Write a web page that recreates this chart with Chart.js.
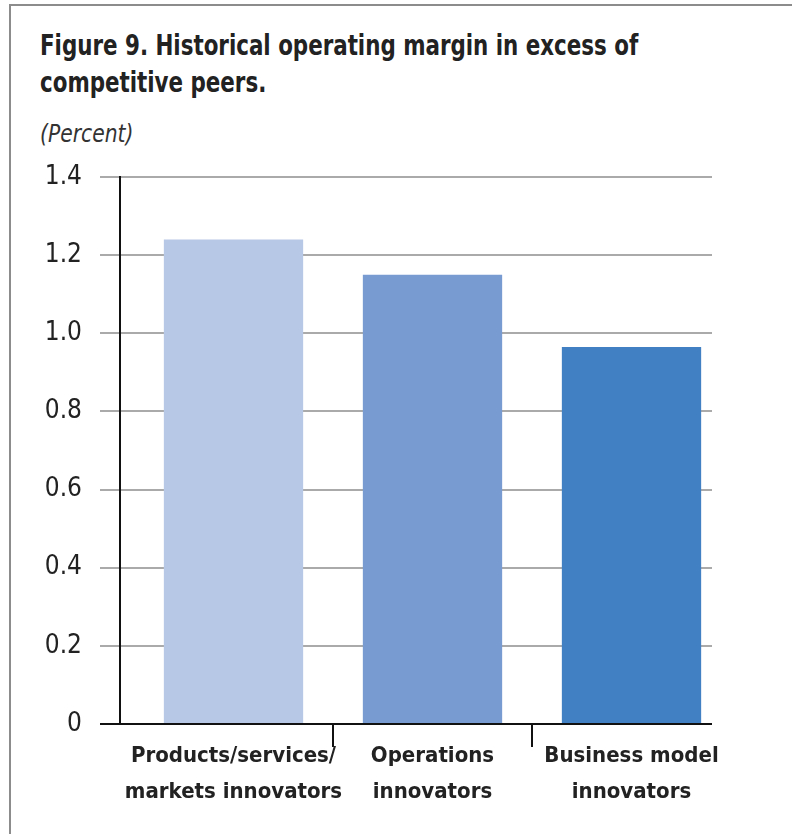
<!DOCTYPE html>
<html>
<head>
<meta charset="utf-8">
<script src="https://cdn.jsdelivr.net/npm/chart.js@4.4.1/dist/chart.umd.min.js"></script>
<style>
  html, body { margin: 0; padding: 0; background: #fff; }
  body { width: 792px; height: 834px; position: relative; overflow: hidden; }
  .frame {
    position: absolute; left: 9px; top: 4px; width: 800px; height: 840px;
    border-left: 2px solid #8c8c8c; border-top: 2px solid #8c8c8c;
  }
  .narrow { font-family: "Liberation Sans Narrow", "DejaVu Sans Condensed", "Arial Narrow", sans-serif; font-stretch: condensed; }
  #titulo {
    position: absolute; left: 40px; top: 27px; margin: 0; white-space: nowrap;
    font-size: 29px; font-weight: bold; line-height: 37px; color: #222;
    transform: scaleX(0.82); transform-origin: 0 0;
  }
  #unidade {
    position: absolute; left: 40px; top: 120px; margin: 0; white-space: nowrap;
    font-size: 24px; font-style: italic; color: #333;
    transform: scaleX(0.94); transform-origin: 0 0;
  }
  #grafico { position: absolute; left: 0; top: 0; }
</style>
</head>
<body>
<div class="frame"></div>
<div id="titulo" class="narrow">Figure 9. Historical operating margin in excess of<br>competitive peers.</div>
<div id="unidade" class="narrow">(Percent)</div>
<canvas id="grafico" width="792" height="834"></canvas>
<script>
// dados do gráfico
const categorias = [
  ['Products/services/', 'markets innovators'],
  ['Operations', 'innovators'],
  ['Business model', 'innovators']
]
const margens = [1.24, 1.15, 0.965]
const cores = ['#b7c8e6', '#789cd1', '#4280c4']
const ticksY = [0, 0.2, 0.4, 0.6, 0.8, 1.0, 1.2, 1.4]

const fonteNarrow = '"Liberation Sans Narrow", "DejaVu Sans Condensed", "Arial Narrow", sans-serif'

// grade horizontal e eixos desenhados por fora da área do gráfico
const gradeEixos = {
  id: 'gradeEixos',
  beforeDatasetsDraw(chart) {
    const { ctx, chartArea, scales } = chart
    const y = scales.y
    const x0 = chartArea.left - 34
    const x1 = chartArea.right - 19
    ctx.save()
    ctx.strokeStyle = '#aaaaaa'
    ctx.lineWidth = 2
    ticksY.forEach(v => {
      if (v === 0) return
      const py = Math.round(y.getPixelForValue(v))
      ctx.beginPath()
      ctx.moveTo(x0, py)
      ctx.lineTo(x1, py)
      ctx.stroke()
    })
    ctx.restore()
  },
  afterDatasetsDraw(chart) {
    const { ctx, chartArea, scales } = chart
    const y = scales.y
    const x0 = chartArea.left - 34
    const x1 = chartArea.right - 19
    const eixoX = chartArea.left - 14
    const topo = y.getPixelForValue(ticksY[ticksY.length - 1])
    const base = Math.round(y.getPixelForValue(0))
    ctx.save()
    ctx.strokeStyle = '#111'
    ctx.lineWidth = 2
    ctx.beginPath()
    ctx.moveTo(eixoX, topo - 1)
    ctx.lineTo(eixoX, base)
    ctx.moveTo(x0, base)
    ctx.lineTo(x1, base)
    ctx.stroke()
    ctx.restore()
  }
}

new Chart(document.getElementById('grafico'), {
  type: 'bar',
  data: {
    labels: categorias,
    datasets: [{
      data: margens,
      backgroundColor: cores,
      borderWidth: 0,
      categoryPercentage: 1,
      barPercentage: 0.7
    }]
  },
  options: {
    responsive: false,
    animation: false,
    layout: { padding: { top: 177, right: 61, bottom: 0, left: 0 } },
    plugins: { legend: { display: false }, tooltip: { enabled: false } },
    scales: {
      x: {
        offset: true,
        border: { display: false },
        grid: {
          offset: true,
          drawOnChartArea: false,
          drawTicks: true,
          tickLength: 23,
          lineWidth: 2,
          // só as divisórias entre categorias
          color: ctx => (ctx.type === 'tick' && ctx.index > 0) ? '#111' : 'rgba(0,0,0,0)'
        },
        ticks: {
          color: '#222',
          padding: -8,
          maxRotation: 0,
          autoSkip: false,
          font: { family: fonteNarrow, size: 22, weight: 'bold', lineHeight: 1.6 }
        },
        afterFit: scale => { scale.height = 110 }
      },
      y: {
        min: 0,
        max: 1.4,
        border: { display: false },
        grid: { display: false },
        afterBuildTicks: scale => { scale.ticks = ticksY.map(v => ({ value: v })) },
        ticks: {
          color: '#222',
          padding: 44,
          font: { family: fonteNarrow, size: 26 },
          callback: v => v === 0 ? '0' : v.toFixed(1)
        },
        afterFit: scale => { scale.width = 134 }
      }
    }
  },
  plugins: [gradeEixos]
})
</script>
</body>
</html>
